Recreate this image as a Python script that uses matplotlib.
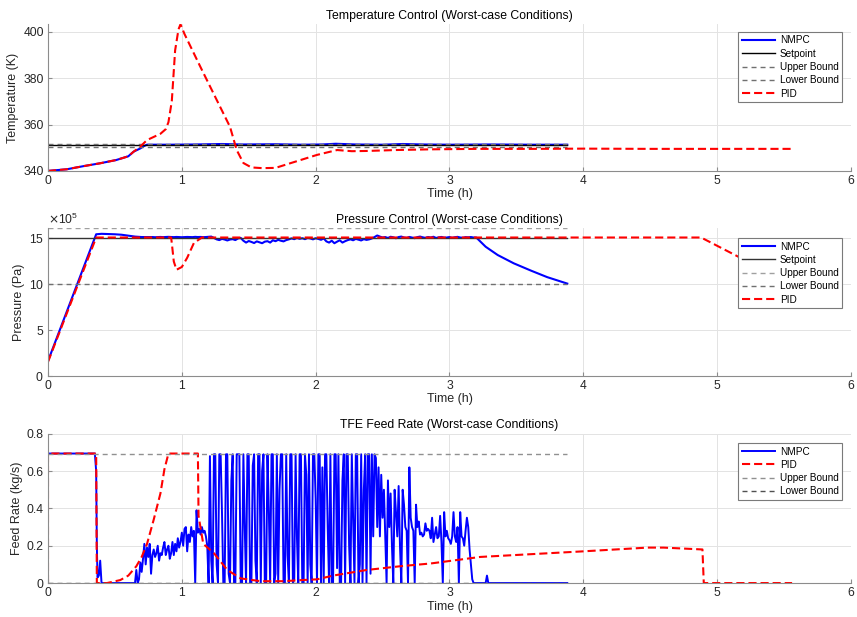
import numpy as np
import matplotlib
matplotlib.use('Agg')
import matplotlib.pyplot as plt

plt.rcParams['font.family'] = ['Liberation Sans', 'DejaVu Sans']

# ---- temperature (K) ----
temp_nmpc_t = [0, 0.14, 0.26, 0.39, 0.51, 0.60, 0.64, 0.69, 0.72, 0.74, 0.9, 1.1, 1.3, 1.45,
               1.7, 1.9, 2.05, 2.15, 2.3, 2.5, 2.65, 2.8, 3.0, 3.3, 3.6, 3.88]
temp_nmpc = [340.0, 340.7, 342.0, 343.3, 344.7, 346.3, 348.3, 349.7, 350.8, 351.3, 351.3, 351.4,
             351.6, 351.4, 351.5, 351.3, 351.4, 351.7, 351.4, 351.3, 351.6, 351.4, 351.3, 351.4,
             351.3, 351.3]
temp_pid_t = [0, 0.14, 0.26, 0.39, 0.51, 0.60, 0.64, 0.69, 0.74, 0.84, 0.88, 0.90, 0.925, 0.95,
              0.975, 0.99, 1.02, 1.14, 1.24, 1.36, 1.41, 1.46, 1.52, 1.60, 1.70, 1.81, 2.01,
              2.16, 2.27, 2.38, 2.6, 2.86, 3.2, 3.6, 4.0, 4.5, 5.0, 5.55]
temp_pid = [340.0, 340.7, 342.0, 343.3, 344.7, 346.3, 348.3, 350.5, 353.3, 356.0, 358.0, 361.0,
            370.0, 392.0, 401.0, 403.2, 399.0, 384.7, 373.0, 359.0, 349.0, 343.4, 341.5, 341.2,
            341.3, 343.3, 346.9, 349.0, 348.5, 348.6, 349.0, 349.3, 349.5, 349.5, 349.6, 349.5,
            349.5, 349.5]
temp_sp = 351.0
temp_ub = 351.5
temp_lb = 350.4

# ---- pressure (x1e5 Pa) ----
pres_nmpc_start_t = [0, 0.36, 0.40, 0.45, 0.50, 0.55, 0.60, 0.65, 0.70]
pres_nmpc_start = [1.6, 15.35, 15.4, 15.38, 15.35, 15.3, 15.2, 15.1, 15.05]
# sampled every 0.02 h from 0.72 h
pres_nmpc_mid = [15.05, 15.04, 15.06, 15.05, 15.03, 15.05, 15.06, 15.04, 15.05, 15.07,
                 15.05, 15.04, 15.06, 15.05, 15.03, 15.05, 15.06, 15.05, 15.04, 15.07,
                 15.05, 15.06, 15.04, 15.05, 15.08,
                 15.1, 14.95, 14.8, 14.72, 14.85, 14.78, 14.68, 14.78, 14.82, 14.72,
                 14.9, 14.95, 14.65,
                 14.45, 14.62, 14.52, 14.4, 14.58, 14.48, 14.38, 14.55, 14.6, 14.45,
                 14.7, 14.6, 14.75, 14.65, 14.58, 14.72, 14.8,
                 14.9, 14.82, 14.95, 14.86, 14.92, 14.82, 14.95, 14.9, 14.8, 14.92,
                 14.85, 14.75, 14.9,
                 14.58, 14.45, 14.65, 14.38, 14.55, 14.7, 14.45, 14.6, 14.72,
                 14.8, 14.7, 14.85, 14.76, 14.68, 14.82, 14.74, 14.8, 14.9,
                 15.05, 15.22, 15.1,
                 15.0, 15.05, 14.95, 15.08, 15.02, 14.92, 15.05, 15.1, 15.0, 14.95,
                 15.06, 15.0, 14.93, 15.04, 15.1, 15.02, 14.96, 15.05, 15.0, 15.08,
                 14.95, 15.02, 15.06, 14.98, 15.0, 15.05, 14.96, 15.03, 15.07, 15.0,
                 14.97, 15.04, 15.02, 15.05, 15.0]
pres_nmpc_end_t = [3.20, 3.27, 3.36, 3.48, 3.61, 3.73, 3.88]
pres_nmpc_end = [15.0, 14.0, 13.1, 12.2, 11.4, 10.7, 10.0]
pres_pid_t = [0, 0.36, 0.92, 0.925, 0.94, 0.96, 1.0, 1.04, 1.09, 1.15, 4.88, 5.18, 5.55]
pres_pid = [1.5, 15.0, 15.0, 14.4, 12.4, 11.5, 11.8, 12.8, 14.4, 15.0, 15.0, 12.75, 9.8]
pres_sp = 15.0
pres_ub = 16.0
pres_lb = 10.0

# ---- TFE feed rate (kg/s) ----
feed_nmpc_start_t = [0, 0.35, 0.36, 0.365, 0.37, 0.38, 0.39, 0.40, 0.63]
feed_nmpc_start = [0.694, 0.694, 0.6, 0.2, 0.03, 0.04, 0.12, 0.0, 0.0]
# sampled every 0.01 h from 0.64 h
feed_nmpc_mid = [0.0, 0.0, 0.07, 0.0, 0.02, 0.11, 0.06, 0.13, 0.21, 0.10,
                 0.19, 0.14, 0.21, 0.05, 0.15, 0.18, 0.14, 0.16, 0.20, 0.12,
                 0.16, 0.15, 0.19, 0.22, 0.15, 0.18, 0.20, 0.13, 0.16, 0.22,
                 0.15, 0.21, 0.17, 0.24, 0.19, 0.22, 0.27, 0.20, 0.29, 0.30,
                 0.17, 0.26, 0.22, 0.30, 0.25, 0.28, 0.0, 0.39, 0.27, 0.29,
                 0.26, 0.30, 0.27, 0.28, 0.25, 0.20,
                 0.0, 0.68, 0.12, 0.0, 0.69, 0.69, 0.10, 0.0, 0.69, 0.69,
                 0.38, 0.0, 0.0, 0.69, 0.69, 0.05, 0.0, 0.55, 0.69, 0.0,
                 0.0, 0.69, 0.69, 0.69, 0.0, 0.0, 0.69, 0.30, 0.0, 0.69,
                 0.69, 0.0, 0.0, 0.63, 0.69, 0.12, 0.0, 0.69, 0.69, 0.0,
                 0.60, 0.69, 0.0, 0.0, 0.69, 0.40, 0.0, 0.69, 0.69, 0.0,
                 0.05, 0.69, 0.0, 0.50, 0.69, 0.69, 0.0, 0.0, 0.69, 0.15,
                 0.0, 0.69, 0.69, 0.0, 0.02, 0.69, 0.25, 0.0, 0.69, 0.69,
                 0.0, 0.0, 0.69, 0.58, 0.0, 0.69, 0.10, 0.0, 0.69, 0.69,
                 0.45, 0.0, 0.69, 0.69, 0.0, 0.62, 0.0, 0.69, 0.69, 0.30,
                 0.0, 0.69, 0.0, 0.0, 0.69, 0.69, 0.08, 0.69, 0.0, 0.0,
                 0.55, 0.69, 0.0, 0.69, 0.69, 0.20, 0.0, 0.69, 0.35, 0.0,
                 0.69, 0.69, 0.0, 0.10, 0.69, 0.0, 0.50, 0.69, 0.0, 0.69,
                 0.69, 0.05, 0.69, 0.25, 0.69, 0.67, 0.30, 0.62, 0.25, 0.58,
                 0.35, 0.50, 0.24, 0.0,
                 0.55, 0.30, 0.48, 0.20, 0.0, 0.50, 0.38, 0.25, 0.52, 0.20,
                 0.0, 0.50, 0.42, 0.30, 0.28, 0.0, 0.62, 0.35, 0.30, 0.28,
                 0.0, 0.42, 0.30, 0.33, 0.26, 0.27, 0.25, 0.26, 0.32, 0.28,
                 0.29, 0.28, 0.24, 0.35, 0.22, 0.26, 0.30, 0.24, 0.25, 0.36,
                 0.22, 0.0, 0.38, 0.25, 0.28, 0.24, 0.23, 0.21, 0.25, 0.38,
                 0.25, 0.22, 0.30, 0.0, 0.38, 0.25, 0.24, 0.20, 0.28, 0.35,
                 0.30, 0.18, 0.10, 0.02, 0.0, 0.0, 0.0, 0.0, 0.0, 0.0,
                 0.0, 0.0, 0.0, 0.0, 0.04, 0.0, 0.0]
feed_nmpc_end_t = [3.88]
feed_nmpc_end = [0.0]
feed_pid_t = [0, 0, 0.36, 0.365, 0.44, 0.54, 0.60, 0.66, 0.70, 0.74, 0.79, 0.84, 0.87, 0.90,
              1.12, 1.125, 1.16, 1.24, 1.34, 1.44, 1.59, 1.76, 1.87, 2.01, 2.13, 2.38, 2.63,
              2.86, 3.23, 4.0, 4.48, 4.6, 4.89, 4.90, 5.56]
feed_pid = [0, 0.694, 0.694, 0, 0, 0.016, 0.04, 0.09, 0.14, 0.21, 0.34, 0.48, 0.61, 0.694,
            0.694, 0.36, 0.21, 0.16, 0.07, 0.025, 0.01, 0.01, 0.015, 0.02, 0.04, 0.07, 0.09,
            0.105, 0.14, 0.17, 0.19, 0.19, 0.18, 0, 0]
feed_ub = 0.694
feed_lb = 0.0

t_end = 3.88

# stitch the sampled pieces together
p_mid_t = 0.72 + 0.02 * np.arange(len(pres_nmpc_mid))
pres_t = np.concatenate([pres_nmpc_start_t, p_mid_t, pres_nmpc_end_t])
pres_v = np.concatenate([pres_nmpc_start, pres_nmpc_mid, pres_nmpc_end]) * 1e5
f_mid_t = 0.64 + 0.01 * np.arange(len(feed_nmpc_mid))
feed_t = np.concatenate([feed_nmpc_start_t, f_mid_t, feed_nmpc_end_t])
feed_v = np.concatenate([feed_nmpc_start, feed_nmpc_mid, feed_nmpc_end])

blue = '#0000ff'
red = '#ff0000'
pid_dash = (3.9, 1.9)
bnd_dash = (3.6, 2.9)
fs_tick = 8.7
fs_lab = 9
fs_title = 8.8


def style_axes(ax, title, ylabel):
    ax.set_title(title, fontsize=fs_title, pad=4)
    ax.set_xlabel('Time (h)', fontsize=fs_lab, color='#262626', labelpad=1)
    ax.set_ylabel(ylabel, fontsize=fs_lab, color='#262626', labelpad=3)
    ax.set_xlim(0, 6)
    ax.set_xticks(range(7))
    ax.grid(True, color='#e3e3e3', linewidth=0.7)
    ax.set_axisbelow(True)
    for s in ['top', 'right']:
        ax.spines[s].set_visible(False)
    for s in ['left', 'bottom']:
        ax.spines[s].set_color('#8c8c8c')
        ax.spines[s].set_linewidth(0.8)
    ax.tick_params(direction='in', length=3, width=0.8, color='#8c8c8c',
                   labelsize=fs_tick, labelcolor='#262626', pad=3)


def add_legend(ax, yanchor):
    leg = ax.legend(loc='upper right', bbox_to_anchor=(0.989, yanchor), borderaxespad=0,
                    fontsize=7.2, handlelength=3.3, labelspacing=0.33, borderpad=0.35,
                    handletextpad=0.5, fancybox=False, framealpha=1, edgecolor='#7a7a7a')
    leg.get_frame().set_linewidth(0.8)


fig = plt.figure(figsize=(8.57, 6.17), dpi=100)
ax1 = fig.add_axes([0.056, 0.723, 0.937, 0.238])
ax2 = fig.add_axes([0.056, 0.391, 0.937, 0.239])
ax3 = fig.add_axes([0.056, 0.055, 0.937, 0.242])

# temperature
ax1.plot(temp_nmpc_t, temp_nmpc, color=blue, lw=1.5, label='NMPC')
ax1.plot([0, t_end], [temp_sp, temp_sp], color='k', lw=1.0, label='Setpoint')
ax1.plot([0, t_end], [temp_ub, temp_ub], color='#707070', lw=1.0, dashes=bnd_dash, label='Upper Bound')
ax1.plot([0, t_end], [temp_lb, temp_lb], color='#707070', lw=1.0, dashes=bnd_dash, label='Lower Bound')
ax1.plot(temp_pid_t, temp_pid, color=red, lw=1.5, dashes=pid_dash, label='PID')
ax1.set_ylim(340, 403.3)
ax1.set_yticks([340, 360, 380, 400])
style_axes(ax1, 'Temperature Control (Worst-case Conditions)', 'Temperature (K)')
add_legend(ax1, 0.946)

# pressure
ax2.plot(pres_t, pres_v, color=blue, lw=1.5, label='NMPC')
ax2.plot([0, t_end], [pres_sp * 1e5] * 2, color='#333333', lw=1.0, label='Setpoint')
ax2.plot([0, t_end], [pres_ub * 1e5] * 2, color='#a0a0a0', lw=1.0, dashes=bnd_dash, label='Upper Bound')
ax2.plot([0, t_end], [pres_lb * 1e5] * 2, color='#707070', lw=1.0, dashes=bnd_dash, label='Lower Bound')
ax2.plot(pres_pid_t, np.array(pres_pid) * 1e5, color=red, lw=1.5, dashes=pid_dash, label='PID')
ax2.set_ylim(0, 16e5)
ax2.set_yticks([0, 5e5, 10e5, 15e5])
ax2.ticklabel_format(axis='y', style='sci', scilimits=(5, 5), useMathText=True)
ax2.yaxis.get_offset_text().set_fontsize(fs_tick)
ax2.yaxis.get_offset_text().set_color('#262626')
style_axes(ax2, 'Pressure Control (Worst-case Conditions)', 'Pressure (Pa)')
add_legend(ax2, 0.934)

# feed rate
ax3.plot(feed_t, feed_v, color=blue, lw=1.4, label='NMPC')
ax3.plot(feed_pid_t, feed_pid, color=red, lw=1.5, dashes=pid_dash, label='PID')
ax3.plot([0, t_end], [feed_ub, feed_ub], color='#909090', lw=1.0, dashes=bnd_dash, label='Upper Bound')
ax3.plot([0, t_end], [feed_lb, feed_lb], color='#505050', lw=1.0, dashes=bnd_dash, label='Lower Bound')
ax3.set_ylim(0, 0.8)
ax3.set_yticks([0, 0.2, 0.4, 0.6, 0.8])
ax3.set_yticklabels(['0', '0.2', '0.4', '0.6', '0.8'])
style_axes(ax3, 'TFE Feed Rate (Worst-case Conditions)', 'Feed Rate (kg/s)')
add_legend(ax3, 0.938)

fig.savefig('out.png', dpi=100)
